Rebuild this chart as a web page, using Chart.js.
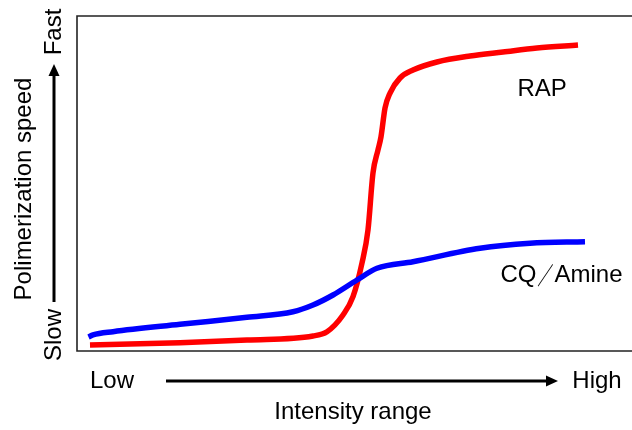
<!DOCTYPE html>
<html>
<head>
<meta charset="utf-8">
<script src="https://cdn.jsdelivr.net/npm/chart.js@4"></script>
<style>
html,body{margin:0;padding:0;background:#fff;}
#wrap{width:632px;height:430px;position:relative;}
</style>
</head>
<body>
<div id="wrap"><canvas id="c" width="632" height="430"></canvas></div>
<script>
// Series (x: intensity 0-100, y: speed 0-100)
const rapX = [2.34, 18.56, 30.63, 42.52, 45.05, 47.93, 49.73, 51.35, 52.43, 53.33, 54.23, 54.77, 55.50, 56.40, 58.20, 60.54, 64.86, 70.81, 76.76, 82.88, 90.27];
const rapY = [1.79, 2.48, 3.28, 4.48, 5.76, 10.75, 16.21, 26.27, 36.12, 53.13, 60.00, 63.88, 72.54, 77.01, 81.49, 83.88, 86.27, 88.06, 89.25, 90.45, 91.34];
const cqX = [2.07, 2.88, 6.49, 18.56, 30.63, 38.92, 42.52, 46.13, 50.45, 54.05, 60.54, 72.61, 81.62, 91.53];
const cqY = [4.18, 4.78, 5.76, 7.97, 10.06, 11.73, 13.73, 16.72, 21.19, 24.69, 26.66, 30.66, 32.15, 32.63];
const seriesNames = ["RAP", "CQ\uFF0FAmine"];
const xLabelLow = "Low", xLabelHigh = "High", xTitle = "Intensity range";
const yLabelSlow = "Slow", yLabelFast = "Fast", yTitle = "Polimerization speed";

const toPts = (xs, ys) => xs.map((x, i) => ({x: x, y: ys[i]}));
const FONT = "24px 'Liberation Sans', Arial, sans-serif";
const CJK_FONT = "24px 'Noto Sans CJK JP', sans-serif";

function arrow(ctx, x1, y1, x2, y2) {
  const ang = Math.atan2(y2 - y1, x2 - x1);
  const hl = 12, hw = 5.5;
  ctx.beginPath();
  ctx.moveTo(x1, y1);
  ctx.lineTo(x2 - hl * Math.cos(ang), y2 - hl * Math.sin(ang));
  ctx.lineWidth = 3;
  ctx.strokeStyle = '#000';
  ctx.stroke();
  ctx.beginPath();
  ctx.moveTo(x2, y2);
  ctx.lineTo(x2 - hl * Math.cos(ang) + hw * Math.sin(ang), y2 - hl * Math.sin(ang) - hw * Math.cos(ang));
  ctx.lineTo(x2 - hl * Math.cos(ang) - hw * Math.sin(ang), y2 - hl * Math.sin(ang) + hw * Math.cos(ang));
  ctx.closePath();
  ctx.fillStyle = '#000';
  ctx.fill();
}

const decor = {
  id: 'decor',
  beforeDatasetsDraw(chart) {
    const ctx = chart.ctx, a = chart.chartArea;
    ctx.save();
    ctx.strokeStyle = '#222';
    ctx.lineWidth = 1.6;
    ctx.beginPath();
    ctx.moveTo(chart.width + 2, a.top);
    ctx.lineTo(a.left, a.top);
    ctx.lineTo(a.left, a.bottom);
    ctx.lineTo(chart.width + 2, a.bottom);
    ctx.stroke();
    ctx.restore();
  },
  afterDatasetsDraw(chart) {
    const ctx = chart.ctx, xs = chart.scales.x, ys = chart.scales.y;
    ctx.save();
    ctx.font = FONT;
    ctx.fillStyle = '#000';
    ctx.textAlign = 'center';
    ctx.textBaseline = 'middle';
    // series labels
    ctx.fillText(seriesNames[0], xs.getPixelForValue(83.8), ys.getPixelForValue(78.2));
    // CQ／Amine with a full-width slash, narrowed to match the reference
    const parts = seriesNames[1].split('\uFF0F');
    const lx = xs.getPixelForValue(76.3), ly = ys.getPixelForValue(22.7);
    ctx.textAlign = 'left';
    ctx.fillText(parts[0], lx, ly);
    ctx.fillText(parts[1], lx + 54, ly);
    ctx.save();
    ctx.font = CJK_FONT;
    ctx.textAlign = 'center';
    ctx.translate(lx + 45, ly);
    ctx.scale(0.68, 1);
    ctx.fillText('\uFF0F', 0, 0);
    ctx.restore();
    ctx.textAlign = 'center';
    // x axis annotations
    ctx.fillText(xLabelLow, 112, 381);
    ctx.fillText(xLabelHigh, 597, 381);
    ctx.fillText(xTitle, 353, 412);
    arrow(ctx, 166, 381, 558, 381);
    // y axis annotations (rotated)
    ctx.save();
    ctx.translate(54, 335);
    ctx.rotate(-Math.PI / 2);
    ctx.fillText(yLabelSlow, 0, 0);
    ctx.restore();
    ctx.save();
    ctx.translate(54, 32);
    ctx.rotate(-Math.PI / 2);
    ctx.fillText(yLabelFast, 0, 0);
    ctx.restore();
    ctx.save();
    ctx.translate(24, 189);
    ctx.rotate(-Math.PI / 2);
    ctx.fillText(yTitle, 0, 0);
    ctx.restore();
    arrow(ctx, 54, 302, 54, 64);
    ctx.restore();
  }
};

new Chart(document.getElementById('c'), {
  type: 'line',
  data: {
    datasets: [
      {label: seriesNames[1], data: toPts(cqX, cqY), borderColor: '#0000ff', borderWidth: 5.5,
       pointRadius: 0, cubicInterpolationMode: 'monotone', fill: false},
      {label: seriesNames[0], data: toPts(rapX, rapY), borderColor: '#ff0000', borderWidth: 5.5,
       pointRadius: 0, cubicInterpolationMode: 'monotone', fill: false}
    ]
  },
  options: {
    responsive: false,
    animation: false,
    layout: {padding: {left: 77, top: 16, right: 0, bottom: 79}},
    plugins: {legend: {display: false}, tooltip: {enabled: false}},
    scales: {
      x: {type: 'linear', min: 0, max: 100, display: false},
      y: {type: 'linear', min: 0, max: 100, display: false}
    }
  },
  plugins: [decor]
});
</script>
</body>
</html>
